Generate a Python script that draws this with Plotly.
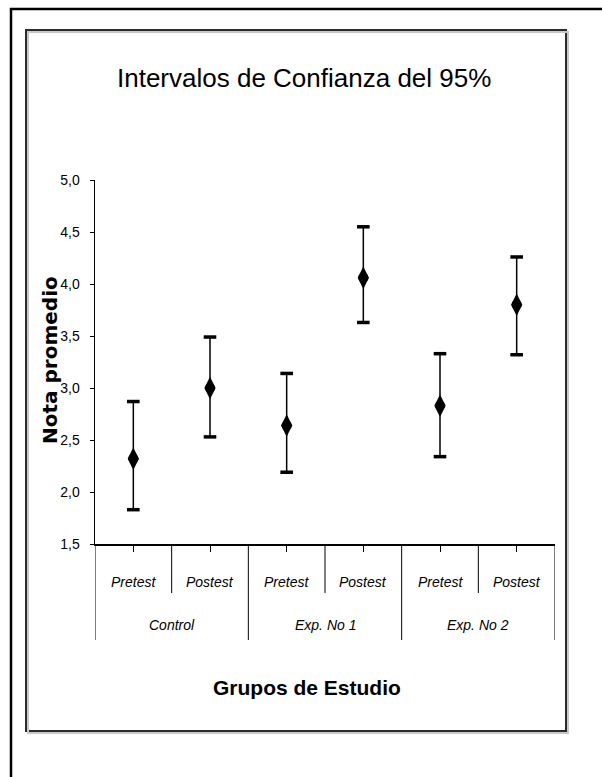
import plotly.graph_objects as go

# ---- data ----
groups = ["Control", "Exp. No 1", "Exp. No 2"]
subcats = ["Pretest", "Postest"]
means = [2.32, 3.00, 2.64, 4.06, 2.83, 3.80]
lower = [1.83, 2.53, 2.19, 3.63, 2.34, 3.32]
upper = [2.87, 3.49, 3.14, 4.55, 3.33, 4.26]
y_ticks = [1.5, 2.0, 2.5, 3.0, 3.5, 4.0, 4.5, 5.0]

title_text = "Intervalos de Confianza del 95%"
x_title = "Grupos de Estudio"
y_title = "Nota promedio"

# ---- layout geometry (pixels) ----
W, H = 602, 777
L, R, T, B = 95, 47, 180, 233
PW, PH = W - L - R, H - T - B


def px(x):
    return (x - L) / PW


def py(y):
    return (H - B - y) / PH


xi = list(range(len(groups) * len(subcats)))
sub_labels = [s for g in groups for s in subcats]

ARIAL = "Liberation Sans, Arial, sans-serif"

fig = go.Figure()

# confidence interval lines + mean markers
fig.add_trace(go.Scatter(
    x=xi, y=means, mode="markers",
    marker=dict(symbol="diamond-tall", size=16, color="black"),
    error_y=dict(type="data", symmetric=False,
                 array=[u - m for u, m in zip(upper, means)],
                 arrayminus=[m - l for m, l in zip(means, lower)],
                 color="black", thickness=1.5, width=0),
    showlegend=False, cliponaxis=False, hoverinfo="skip",
))
fig.add_trace(go.Scatter(
    x=xi, y=means, mode="markers",
    marker=dict(symbol="circle", size=10, color="black"),
    showlegend=False, cliponaxis=False, hoverinfo="skip",
))
# caps
fig.add_trace(go.Scatter(
    x=xi + xi, y=upper + lower, mode="markers",
    marker=dict(symbol="line-ew", size=9, line=dict(width=3.5, color="black")),
    showlegend=False, cliponaxis=False, hoverinfo="skip",
))

shapes = []
# outer border
shapes.append(dict(type="rect", xref="paper", yref="paper",
                   x0=px(11), x1=px(640), y0=py(9), y1=py(820),
                   line=dict(color="black", width=2.5), fillcolor="rgba(0,0,0,0)"))
# inner chart box (with faint shadow)
shapes.append(dict(type="rect", xref="paper", yref="paper",
                   x0=px(28), x1=px(568), y0=py(32), y1=py(733),
                   line=dict(color="#c8c8c8", width=2), fillcolor="rgba(0,0,0,0)"))
shapes.append(dict(type="rect", xref="paper", yref="paper",
                   x0=px(26), x1=px(566), y0=py(30), y1=py(731),
                   line=dict(color="#2b2b2b", width=2), fillcolor="white", layer="below"))

# dividers between sub-categories (short) and groups (long)
n_sub = len(subcats)
for gi in range(len(groups)):
    for si in range(1, n_sub):
        xv = gi * n_sub + si - 0.5
        shapes.append(dict(type="line", xref="x", yref="paper",
                           x0=xv, x1=xv, y0=0, y1=py(593),
                           line=dict(color="black", width=1)))
for gi in range(len(groups) + 1):
    xv = gi * n_sub - 0.5
    shapes.append(dict(type="line", xref="x", yref="paper",
                       x0=xv, x1=xv, y0=0, y1=py(640),
                       line=dict(color="black", width=1)))

annotations = []
for i, lab in zip(xi, sub_labels):
    annotations.append(dict(x=i, y=py(582), xref="x", yref="paper", text=lab,
                            showarrow=False, xanchor="center", yanchor="middle",
                            font=dict(family=ARIAL, size=14, color="black", style="italic")))
for gi, g in enumerate(groups):
    xc = gi * n_sub + (n_sub - 1) / 2
    annotations.append(dict(x=xc, y=py(625), xref="x", yref="paper", text=g,
                            showarrow=False, xanchor="center", yanchor="middle",
                            font=dict(family=ARIAL, size=14, color="black", style="italic")))

annotations.append(dict(x=px(304), y=py(78), xref="paper", yref="paper", text=title_text,
                        showarrow=False, xanchor="center", yanchor="middle",
                        font=dict(family=ARIAL, size=26, color="black")))
annotations.append(dict(x=px(307), y=py(687), xref="paper", yref="paper", text=x_title,
                        showarrow=False, xanchor="center", yanchor="middle",
                        font=dict(family=ARIAL, size=21, color="black", weight="bold")))
annotations.append(dict(x=px(50), y=py(360), xref="paper", yref="paper", text=y_title,
                        showarrow=False, xanchor="center", yanchor="middle", textangle=-90,
                        font=dict(family="DejaVu Sans, sans-serif", size=20, color="black", weight="bold")))

fig.update_layout(
    width=W, height=H,
    margin=dict(l=L, r=R, t=T, b=B, pad=0),
    paper_bgcolor="white", plot_bgcolor="rgba(0,0,0,0)",
    separators=", ",
    hovermode=False,
    shapes=shapes, annotations=annotations,
    xaxis=dict(range=[-0.5, len(xi) - 0.5], tickvals=xi, showticklabels=False,
               ticks="outside", ticklen=6, tickcolor="black", tickwidth=1,
               showline=True, linecolor="black", linewidth=1.5,
               showgrid=False, zeroline=False, fixedrange=True),
    yaxis=dict(range=[1.5, 5.0], tickvals=y_ticks, tickformat=".1f",
               ticks="outside", ticklen=4, tickcolor="black", tickwidth=1,
               ticklabelstandoff=7,
               tickfont=dict(family=ARIAL, size=14, color="black"),
               showline=True, linecolor="black", linewidth=1.5,
               showgrid=False, zeroline=False, fixedrange=True),
)

fig.write_html("out.html", config={"displayModeBar": False, "staticPlot": True},
               post_script="document.body.style.margin='0';document.body.style.overflow='hidden';")
